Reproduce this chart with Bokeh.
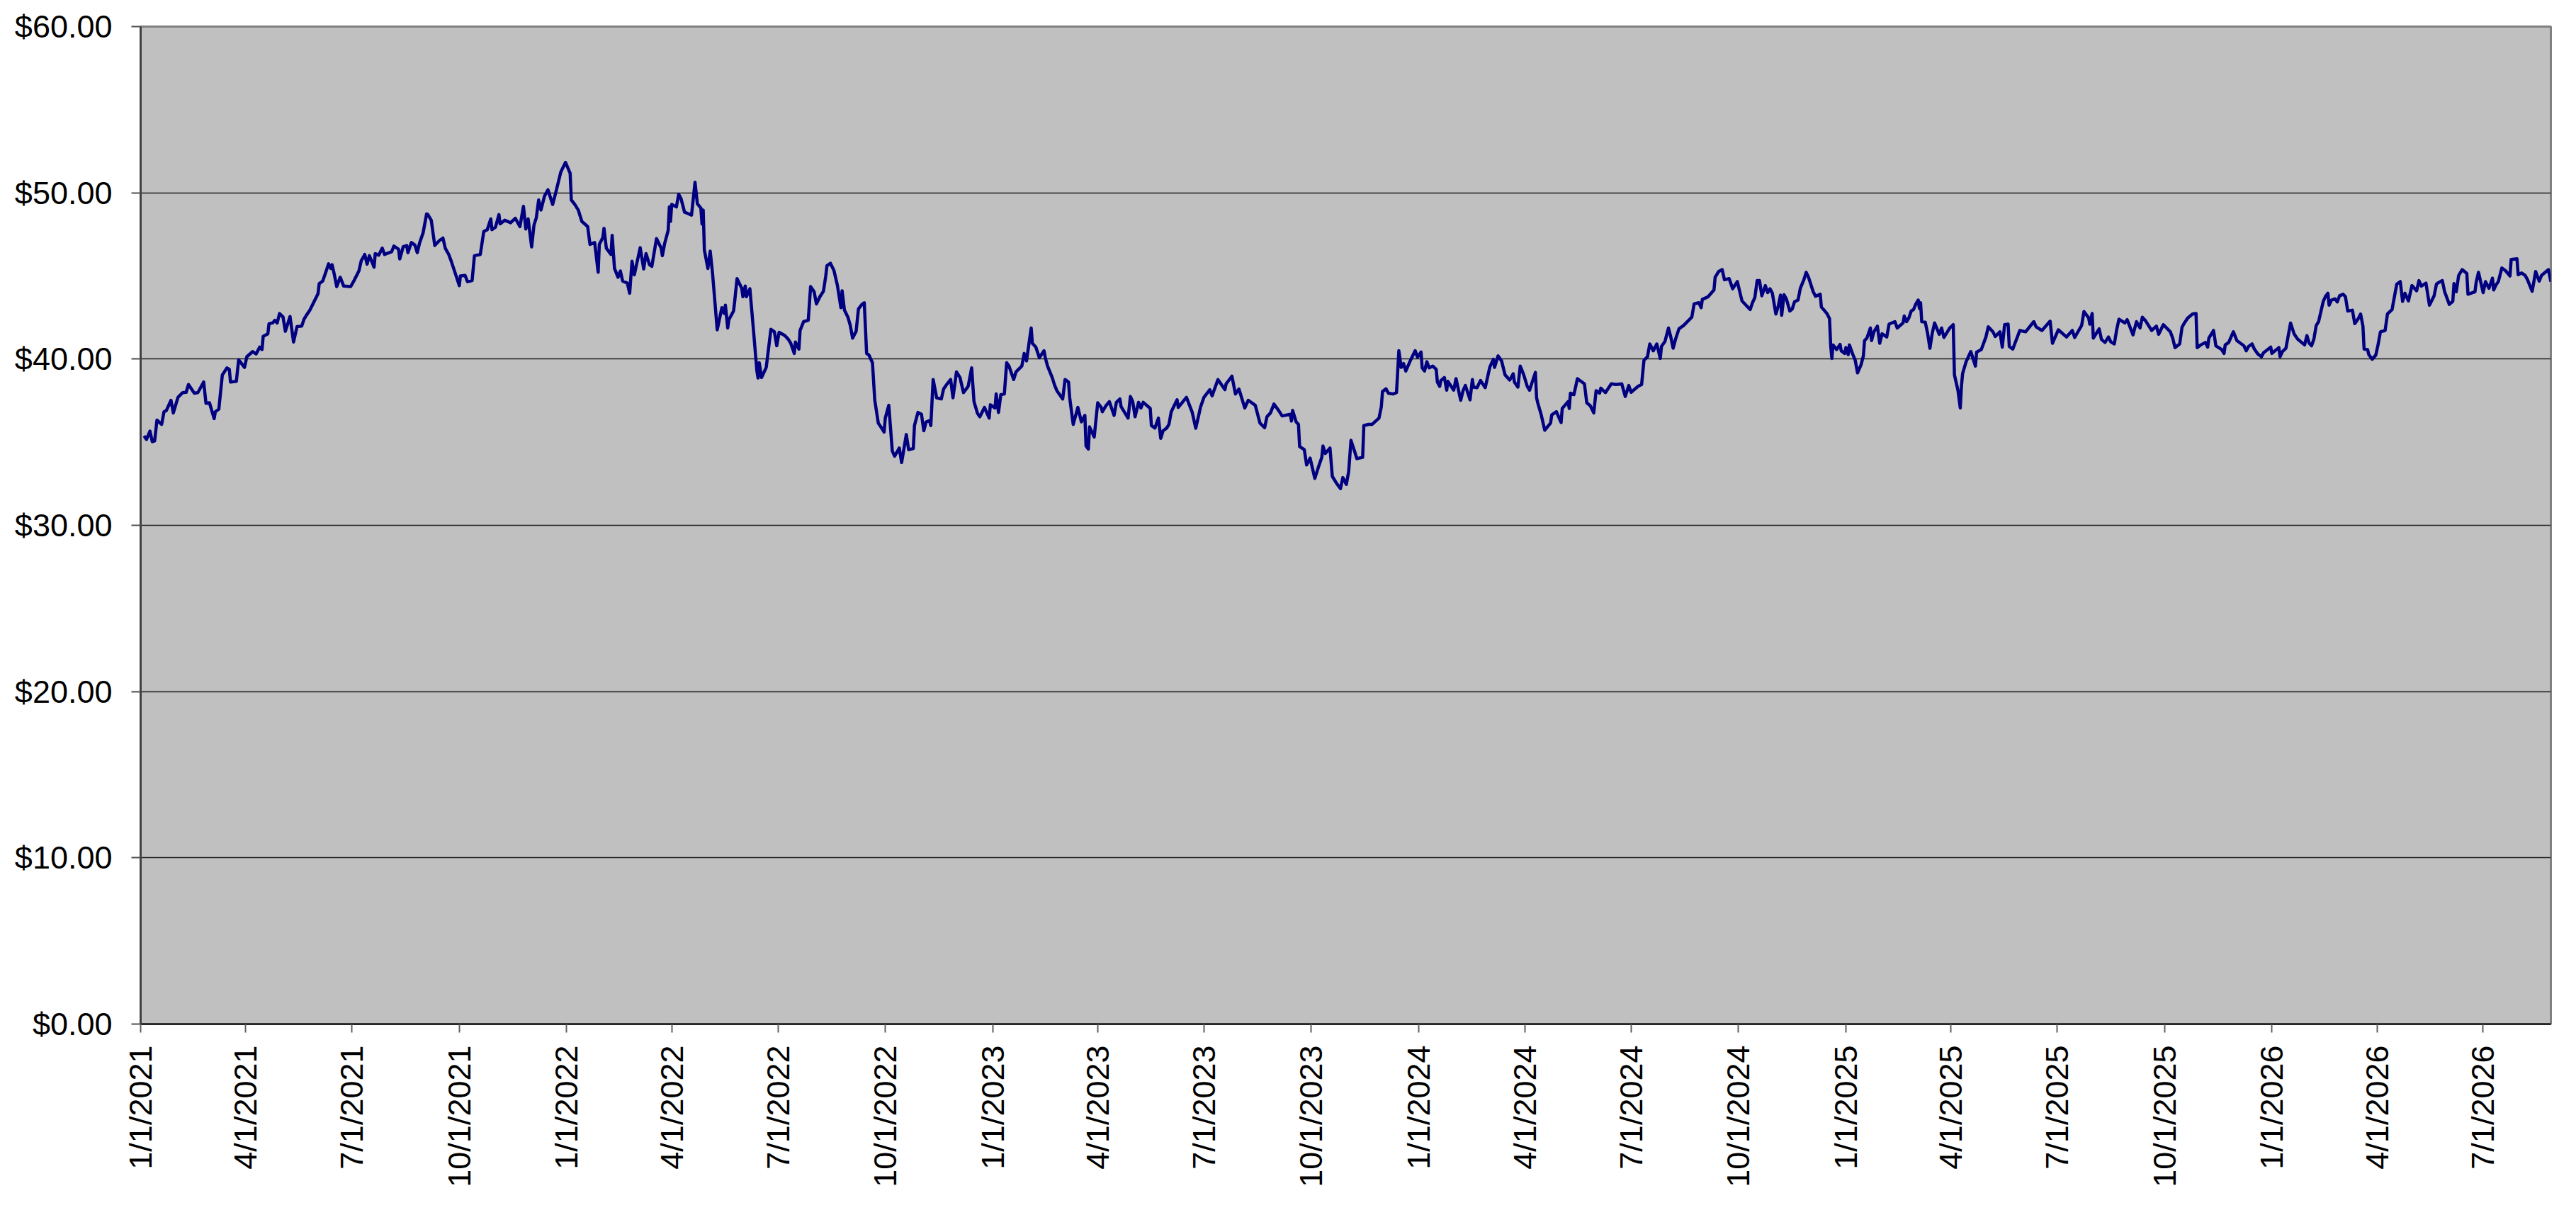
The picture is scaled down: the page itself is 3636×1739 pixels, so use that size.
import math
from datetime import datetime, timedelta

from bokeh.plotting import figure
from bokeh.models import Range1d, FixedTicker, NumeralTickFormatter
from bokeh.embed import file_html
from bokeh.resources import INLINE

# ---------------- data ----------------
start_date = "1/1/2021"

tick_labels = ["1/1/2021", "4/1/2021", "7/1/2021", "10/1/2021",
               "1/1/2022", "4/1/2022", "7/1/2022", "10/1/2022",
               "1/1/2023", "4/1/2023", "7/1/2023", "10/1/2023",
               "1/1/2024", "4/1/2024", "7/1/2024", "10/1/2024",
               "1/1/2025", "4/1/2025", "7/1/2025", "10/1/2025",
               "1/1/2026", "4/1/2026", "7/1/2026"]

price_ticks = [0, 10, 20, 30, 40, 50, 60]

# day offsets from start_date, and closing prices
days_2021 = [3, 5, 8, 10, 12, 14, 18, 20, 22, 26,
             28, 32, 36, 39, 41, 46, 49, 54, 56, 59,
             63, 64, 67, 70, 74, 76, 77, 82, 84, 89,
             91, 96, 99, 102, 104, 105, 109, 110, 113, 115,
             117, 119, 122, 124, 128, 131, 134, 138, 140, 142,
             145, 152, 153, 156, 159, 161, 163, 164, 166, 168,
             171, 174, 180, 183, 187, 189, 192, 194, 196, 200,
             201, 204, 207, 209, 215, 217, 221, 222, 225, 228,
             229, 232, 235, 237, 239, 242, 245, 246, 249, 252,
             256, 259, 261, 264, 266, 270, 273, 274, 278, 280,
             284, 286, 291, 293, 294, 297, 300, 301, 304, 307,
             308, 312, 317, 321, 325, 328, 330, 332, 335, 337,
             339, 341, 343, 346, 349, 353, 356, 360]
prices_2021 = [35.38, 35.16, 35.66, 35.03, 35.08, 36.33, 36.07, 36.83, 36.90, 37.52,
               36.76, 37.70, 37.98, 38.00, 38.47, 37.95, 37.98, 38.62, 37.34, 37.37,
               36.42, 36.83, 36.99, 39.05, 39.47, 39.38, 38.62, 38.66, 39.96, 39.50,
               40.14, 40.45, 40.31, 40.72, 40.57, 41.37, 41.52, 42.13, 42.17, 42.33,
               42.17, 42.74, 42.53, 41.67, 42.56, 41.03, 41.95, 41.98, 42.40, 42.63,
               42.94, 43.93, 44.54, 44.69, 45.30, 45.73, 45.45, 45.68, 45.07, 44.36,
               44.92, 44.39, 44.36, 44.74, 45.30, 45.91, 46.29, 45.71, 46.22, 45.53,
               46.34, 46.25, 46.67, 46.29, 46.45, 46.80, 46.60, 46.02, 46.76, 46.83,
               46.40, 47.01, 46.86, 46.40, 46.98, 47.59, 48.73, 48.70, 48.35, 46.83,
               47.13, 47.28, 46.67, 46.29, 45.91, 45.07, 44.42, 45.00, 45.03, 44.66,
               44.72, 46.22, 46.29, 47.21, 47.67, 47.78, 48.43, 47.78, 47.93, 48.69,
               48.13, 48.35, 48.20, 48.47, 47.97, 49.19, 47.82, 48.43, 46.75, 48.05,
               48.50, 49.57, 48.96, 49.80, 50.18, 49.30, 50.11, 51.25]

days_2022 = [364, 368, 369, 372, 375, 378, 383, 385, 389, 392,
             393, 396, 397, 399, 403, 404, 406, 409, 411, 413,
             417, 419, 421, 423, 428, 431, 433, 436, 438, 442,
             446, 447, 449, 452, 453, 454, 455, 459, 461, 463,
             466, 468, 472, 475, 477, 480, 481, 482, 483, 486,
             488, 490, 494, 498, 500, 501, 503, 504, 508, 509,
             511, 515, 516, 518, 519, 522, 525, 528, 529, 530,
             532, 536, 540, 543, 545, 547, 552, 555, 557, 560,
             561, 564, 565, 568, 572, 574, 577, 579, 582, 585,
             587, 588, 591, 594, 597, 600, 601, 603, 606, 608,
             610, 613, 615, 618, 620, 622, 624, 627, 629, 632,
             635, 637, 638, 641, 644, 646, 650, 652, 656, 658,
             662, 663, 666, 669, 671, 673, 676, 677, 679, 682,
             686, 688, 691, 694, 696, 699, 702, 705, 709, 712]
prices_2022 = [51.83, 51.17, 49.57, 49.30, 48.96, 48.28, 47.97, 46.90, 47.01, 45.22,
               46.90, 47.31, 47.86, 46.67, 46.29, 47.44, 45.45, 44.92, 45.30, 44.69,
               44.57, 43.96, 45.88, 45.07, 46.70, 45.42, 46.34, 45.68, 45.58, 47.25,
               46.67, 46.22, 46.96, 47.74, 49.15, 48.28, 49.30, 49.15, 49.91, 49.65,
               48.84, 48.78, 48.66, 50.64, 49.34, 49.08, 48.12, 48.96, 46.55, 45.45,
               46.49, 45.15, 41.76, 43.09, 42.74, 43.24, 41.87, 42.37, 42.89, 43.50,
               44.84, 44.26, 43.75, 44.39, 43.75, 44.23, 41.79, 39.28, 38.86, 39.78,
               38.89, 39.50, 41.79, 41.64, 40.80, 41.61, 41.41, 41.18, 40.95, 40.34,
               41.03, 40.60, 41.72, 42.25, 42.33, 44.36, 44.05, 43.32, 43.75, 44.08,
               45.00, 45.61, 45.76, 45.33, 44.42, 43.09, 44.11, 42.94, 42.52, 42.02,
               41.26, 41.67, 43.01, 43.29, 43.39, 40.34, 40.24, 39.78, 37.52, 36.15,
               35.84, 35.61, 36.45, 37.22, 34.47, 34.16, 34.65, 33.78, 35.46, 34.55,
               34.62, 36.00, 36.79, 36.68, 35.69, 36.22, 36.30, 36.00, 38.77, 37.67,
               37.60, 38.21, 38.51, 38.77, 37.67, 39.23, 38.89, 37.98, 38.36, 39.47]

days_2023 = [714, 717, 719, 723, 727, 728, 732, 733, 735, 737,
             740, 742, 744, 748, 750, 755, 757, 759, 761, 763,
             764, 767, 770, 774, 775, 777, 781, 783, 785, 790,
             792, 795, 796, 799, 803, 806, 809, 810, 812, 813,
             817, 820, 823, 824, 827, 830, 834, 836, 839, 840,
             846, 848, 850, 852, 855, 857, 859, 865, 866, 869,
             872, 874, 876, 879, 881, 883, 888, 889, 896, 901,
             904, 907, 908, 911, 916, 918, 923, 929, 930, 935,
             938, 941, 946, 949, 955, 959, 963, 965, 968, 971,
             975, 978, 985, 986, 987, 990, 992, 993, 997, 999,
             1002, 1006, 1009, 1012, 1013, 1015, 1019, 1021, 1025, 1028,
             1030, 1033, 1035, 1037, 1040, 1042, 1047, 1048, 1052]
prices_2023 = [37.44, 36.73, 36.53, 37.09, 36.45, 37.25, 37.06, 37.90, 36.79, 37.86,
               37.90, 39.78, 39.58, 38.77, 39.23, 39.58, 40.34, 39.89, 40.88, 41.87,
               40.95, 40.72, 40.08, 40.50, 40.11, 39.58, 38.89, 38.44, 38.10, 37.60,
               38.77, 38.62, 37.67, 36.07, 37.09, 36.22, 36.61, 34.78, 34.59, 35.92,
               35.31, 37.37, 37.09, 36.83, 37.19, 37.44, 36.61, 37.40, 37.60, 37.14,
               36.45, 37.75, 37.44, 36.53, 37.40, 37.06, 37.40, 37.03, 36.00, 35.85,
               36.45, 35.23, 35.69, 35.84, 36.07, 36.83, 37.55, 37.09, 37.70, 36.79,
               35.84, 36.76, 37.09, 37.70, 38.16, 37.79, 38.77, 38.16, 38.51, 38.97,
               37.90, 38.20, 37.06, 37.52, 37.22, 36.15, 35.87, 36.53, 36.76, 37.29,
               36.91, 36.58, 36.68, 36.27, 36.91, 36.22, 36.07, 34.74, 34.55, 33.63,
               34.04, 32.82, 33.48, 34.09, 34.77, 34.32, 34.65, 32.94, 32.49, 32.21,
               32.87, 32.46, 33.22, 35.11, 34.47, 34.01, 34.09, 36.00, 36.07]

days_2024 = [1055, 1061, 1063, 1064, 1067, 1069, 1073, 1076, 1078, 1080,
             1082, 1084, 1088, 1092, 1094, 1097, 1098, 1100, 1102, 1104,
             1107, 1110, 1111, 1113, 1114, 1117, 1119, 1120, 1125, 1127,
             1131, 1133, 1135, 1139, 1141, 1142, 1145, 1148, 1152, 1156,
             1159, 1160, 1163, 1166, 1169, 1173, 1176, 1177, 1180, 1182,
             1185, 1188, 1190, 1192, 1195, 1196, 1197, 1200, 1203, 1208,
             1209, 1213, 1217, 1218, 1223, 1224, 1225, 1228, 1231, 1237,
             1239, 1242, 1245, 1247, 1250, 1251, 1255, 1260, 1264, 1269,
             1272, 1275, 1277, 1283, 1286, 1288, 1291, 1293, 1296, 1299,
             1302, 1303, 1306, 1307, 1309, 1311, 1313, 1315, 1318, 1322,
             1329, 1331, 1335, 1337, 1338, 1343, 1348, 1349, 1352, 1355,
             1357, 1361, 1364, 1368, 1372, 1376, 1379, 1381, 1383, 1385,
             1387, 1389, 1392, 1394, 1396, 1398, 1401, 1403, 1405, 1406,
             1408, 1410, 1413, 1415, 1417]
prices_2024 = [36.07, 36.45, 37.14, 38.05, 38.21, 37.95, 37.90, 37.98, 40.50, 39.50,
               39.73, 39.28, 39.93, 40.50, 40.11, 40.42, 39.47, 39.28, 39.84, 39.47,
               39.58, 39.38, 38.62, 38.36, 38.71, 38.89, 38.13, 38.66, 38.13, 38.82,
               37.52, 38.10, 38.41, 37.55, 38.77, 38.31, 38.28, 38.71, 38.28, 39.53,
               39.99, 39.50, 40.19, 39.89, 39.05, 38.74, 39.12, 38.62, 38.31, 39.58,
               39.05, 38.36, 38.13, 38.56, 39.20, 37.67, 37.37, 36.64, 35.72, 36.15,
               36.64, 36.83, 36.18, 37.03, 37.44, 37.03, 37.95, 37.86, 38.82, 38.51,
               37.37, 37.19, 36.76, 38.10, 37.95, 38.25, 37.98, 38.51, 38.47, 38.51,
               37.75, 38.41, 38.00, 38.36, 38.47, 39.93, 40.14, 40.91, 40.50, 40.91,
               40.04, 40.76, 41.06, 41.33, 41.87, 41.33, 40.65, 41.18, 41.82, 42.02,
               42.52, 43.32, 43.39, 43.09, 43.59, 43.75, 44.16, 44.92, 45.27, 45.38,
               44.77, 44.84, 44.23, 44.66, 43.50, 43.20, 42.98, 43.39, 43.70, 44.72,
               44.72, 43.81, 44.42, 44.00, 44.23, 43.96, 42.71, 43.17, 43.85, 42.63,
               43.87, 43.62, 42.89, 43.01, 43.44]

days_2025 = [1420, 1422, 1425, 1427, 1429, 1433, 1435, 1439, 1440, 1443,
             1445, 1447, 1448, 1449, 1450, 1453, 1456, 1457, 1460, 1461,
             1463, 1464, 1467, 1469, 1471, 1474, 1476, 1477, 1479, 1482,
             1483, 1485, 1488, 1490, 1492, 1496, 1498, 1503, 1505, 1510,
             1511, 1513, 1515, 1517, 1519, 1521, 1523, 1524, 1525, 1526,
             1529, 1531, 1533, 1535, 1537, 1541, 1543, 1545, 1550, 1553,
             1554, 1557, 1559, 1560, 1561, 1564, 1568, 1572, 1573, 1577,
             1581, 1583, 1587, 1589, 1593, 1595, 1597, 1600, 1601, 1604,
             1610, 1615, 1622, 1624, 1629, 1636, 1638, 1643, 1650, 1655,
             1657, 1663, 1665, 1669, 1670, 1672, 1673, 1678, 1680, 1683,
             1686, 1688, 1691, 1693, 1695, 1700, 1702, 1707, 1710, 1713,
             1715, 1718, 1723, 1727, 1729, 1733, 1739, 1741, 1743, 1747,
             1749, 1751, 1754, 1758, 1761, 1762, 1765, 1769]
prices_2025 = [43.55, 44.26, 44.77, 45.22, 44.92, 44.05, 43.78, 43.90, 43.13, 42.89,
               42.71, 42.43, 40.80, 40.04, 40.85, 40.57, 40.88, 40.50, 40.34, 40.69,
               40.27, 40.85, 40.27, 39.93, 39.17, 39.66, 40.19, 41.11, 41.26, 41.87,
               41.11, 41.64, 41.98, 40.95, 41.52, 41.33, 42.10, 42.25, 41.87, 42.17,
               42.59, 42.25, 42.48, 42.89, 42.98, 43.32, 43.55, 43.04, 43.39, 42.25,
               42.22, 41.56, 40.65, 41.56, 42.17, 41.49, 41.87, 41.30, 41.87, 42.07,
               39.05, 38.13, 37.06, 38.36, 39.12, 39.84, 40.45, 39.58, 40.42, 40.57,
               41.33, 41.94, 41.64, 41.36, 41.64, 40.72, 42.07, 42.10, 40.76, 40.60,
               41.72, 41.64, 42.25, 41.94, 41.72, 42.28, 40.95, 41.76, 41.33, 41.72,
               41.30, 42.02, 42.86, 42.48, 42.10, 42.74, 41.26, 41.82, 41.18, 41.00,
               41.33, 41.03, 40.91, 41.76, 42.40, 42.17, 42.37, 41.46, 42.25, 41.87,
               42.52, 42.28, 41.72, 41.98, 41.49, 42.07, 41.64, 41.26, 40.69, 40.91,
               41.91, 42.17, 42.48, 42.71, 42.74, 40.69, 40.85, 41.00]

days_2026 = [1771, 1772, 1776, 1778, 1783, 1785, 1786, 1789, 1792, 1793,
             1796, 1802, 1804, 1806, 1809, 1811, 1814, 1817, 1819, 1825,
             1826, 1832, 1833, 1835, 1838, 1842, 1845, 1848, 1854, 1856,
             1858, 1860, 1862, 1864, 1866, 1868, 1870, 1872, 1874, 1875,
             1877, 1880, 1882, 1884, 1887, 1889, 1891, 1895, 1897, 1900,
             1902, 1904, 1905, 1908, 1909, 1912, 1915, 1917, 1919, 1923,
             1925, 1929, 1930, 1933, 1936, 1938, 1940, 1943, 1946, 1950,
             1952, 1954, 1958, 1961, 1965, 1967, 1969, 1972, 1974, 1978,
             1981, 1982, 1984, 1986, 1989, 1993, 1994, 2000, 2001, 2003,
             2007, 2009, 2012, 2015, 2016, 2018, 2020, 2023, 2026, 2030,
             2031, 2036, 2037, 2040, 2043, 2045, 2049, 2052, 2055, 2057,
             2063, 2065]
prices_2026 = [40.72, 41.26, 41.72, 40.80, 40.57, 40.34, 40.85, 41.00, 41.49, 41.64,
               41.11, 40.80, 40.50, 40.76, 40.91, 40.60, 40.30, 40.14, 40.39, 40.72,
               40.34, 40.69, 40.14, 40.45, 40.65, 42.17, 41.52, 41.21, 40.85, 41.41,
               40.95, 40.80, 41.21, 42.02, 42.25, 42.86, 43.47, 43.78, 43.96, 43.24,
               43.55, 43.62, 43.44, 43.81, 43.90, 43.75, 42.89, 42.94, 42.13, 42.43,
               42.71, 41.98, 40.60, 40.57, 40.27, 39.99, 40.24, 40.88, 41.64, 41.72,
               42.71, 42.98, 43.39, 44.51, 44.66, 43.47, 43.96, 43.50, 44.42, 44.11,
               44.72, 44.39, 44.57, 43.24, 43.81, 44.51, 44.61, 44.72, 44.05, 43.29,
               43.47, 44.54, 44.05, 45.03, 45.38, 45.15, 43.90, 44.05, 44.61, 45.22,
               44.00, 44.66, 44.26, 44.87, 44.16, 44.46, 44.66, 45.48, 45.33, 45.00,
               45.99, 46.03, 45.07, 45.18, 45.03, 44.77, 44.08, 45.27, 44.69, 45.03,
               45.38, 44.66]

# ---------------- build ----------------
day_groups = [days_2021, days_2022, days_2023, days_2024, days_2025, days_2026]
price_groups = [prices_2021, prices_2022, prices_2023, prices_2024, prices_2025, prices_2026]

t0 = datetime.strptime(start_date, "%m/%d/%Y")
xs, ys = [], []
for dg, pg in zip(day_groups, price_groups):
    n = min(len(dg), len(pg))
    xs.extend(t0 + timedelta(days=d) for d in dg[:n])
    ys.extend(pg[:n])

epoch = datetime(1970, 1, 1)
tick_dates = [datetime.strptime(s, "%m/%d/%Y") for s in tick_labels]
tick_ms = [(d - epoch).total_seconds() * 1000.0 for d in tick_dates]

p = figure(width=3618, height=1720, x_axis_type="datetime",
           output_backend="svg", toolbar_location=None,
           x_range=Range1d(start=t0, end=xs[-1]),
           y_range=Range1d(start=price_ticks[0], end=price_ticks[-1]),
           min_border_left=198, min_border_right=18,
           min_border_top=37, min_border_bottom=275)

p.background_fill_color = "#C0C0C0"
p.border_fill_color = "white"
p.outline_line_color = "#808080"
p.outline_line_width = 3

p.xgrid.visible = False
p.ygrid.grid_line_color = "#1e1e1e"
p.ygrid.grid_line_width = 1.5

p.line(xs, ys, line_color="#000080", line_width=4.5, line_join="round")

# y axis
p.yaxis.ticker = FixedTicker(ticks=price_ticks)
p.yaxis.formatter = NumeralTickFormatter(format="$0.00")
p.yaxis.major_tick_out = 13
p.yaxis.major_tick_in = 0
p.yaxis.minor_tick_out = 0
p.yaxis.minor_tick_in = 0
p.yaxis.major_label_standoff = 27
p.yaxis.axis_line_color = "#404040"
p.yaxis.axis_line_width = 3
p.yaxis.major_tick_line_color = "#505050"
p.yaxis.major_tick_line_width = 2

# x axis
p.xaxis.ticker = FixedTicker(ticks=tick_ms)
p.xaxis.major_label_overrides = {ms: s for ms, s in zip(tick_ms, tick_labels)}
p.xaxis.major_label_orientation = math.pi / 2
p.xaxis.major_tick_out = 12
p.xaxis.major_tick_in = 0
p.xaxis.minor_tick_out = 0
p.xaxis.minor_tick_in = 0
p.xaxis.major_label_standoff = 18
p.xaxis.axis_line_color = "#000000"
p.xaxis.axis_line_width = 2
p.xaxis.major_tick_line_color = "#606060"
p.xaxis.major_tick_line_width = 2

for ax in (p.xaxis, p.yaxis):
    ax.major_label_text_font = "Liberation Sans"
    ax.major_label_text_font_size = "45px"
    ax.major_label_text_color = "black"

open("out.html", "w").write(file_html(p, INLINE))
